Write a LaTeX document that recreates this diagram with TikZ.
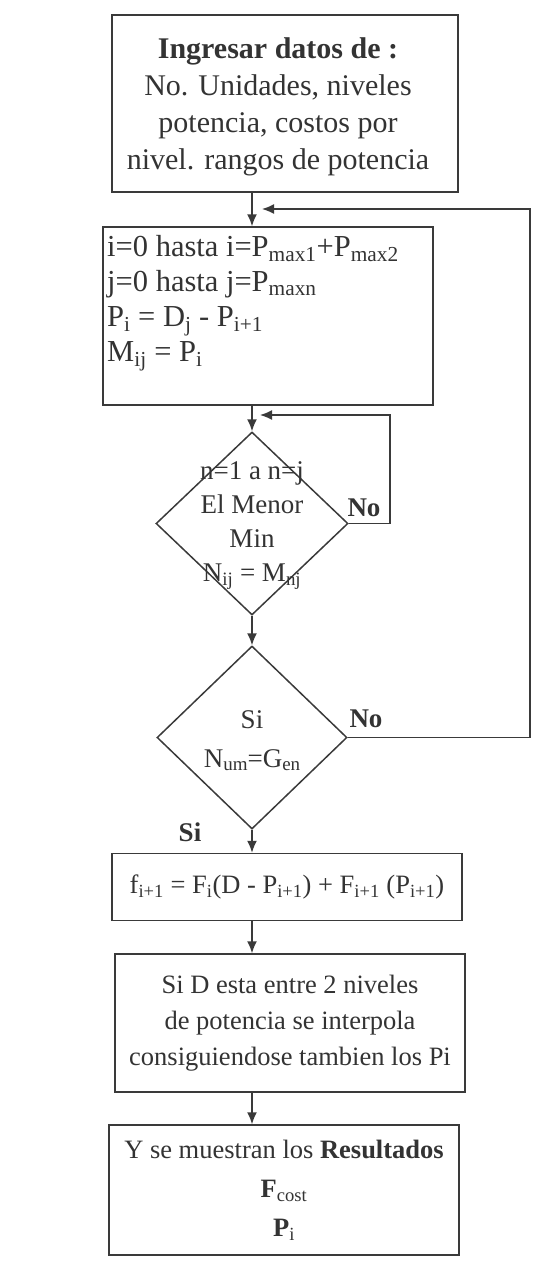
\documentclass[tikz,border=0pt]{standalone}
\usepackage{fontspec}
\setmainfont{Liberation Serif}
\usetikzlibrary{arrows.meta,shapes.geometric}
\definecolor{ink}{HTML}{3A3A3A}
\definecolor{txt}{HTML}{333333}
\newcommand\bigsub[1]{\raisebox{-0.25ex}{\fontsize{19}{20}\selectfont #1}}
\tikzset{
  boxnode/.style={draw=ink,line width=1.5pt,rectangle,inner sep=5pt,text=txt,align=center,
    font=\fontsize{26.5}{35}\selectfont},
  plaintext/.style={text=txt,inner sep=0pt},
  dianode/.style={draw=ink,line width=1.5pt,diamond,inner sep=0pt},
  dtext/.style={text=txt,align=center,font=\fontsize{27}{34}\selectfont},
  lbl/.style={text=txt,font=\bfseries\fontsize{27}{30}\selectfont},
  arr/.style={draw=ink,line width=1.5pt,-{Latex[length=12pt,width=10pt]}},
}
\begin{document}
\begin{tikzpicture}[x=1pt,y=-1pt]
\useasboundingbox (0,0) rectangle (533,1262);
% boxes
\node[boxnode,minimum width=346pt,minimum height=177pt] (b1) at (285,103.5) {};
\node[plaintext,align=center,font=\fontsize{30}{37}\selectfont] (t00) at (278,107)
  {\textbf{Ingresar datos de :}\\No. Unidades, niveles\\potencia, costos por\\nivel. rangos de potencia};
\node[boxnode,minimum width=330pt,minimum height=178pt] (b2) at (268,316) {};
\node[plaintext,anchor=north west,align=left,font=\fontsize{30.5}{35}\selectfont] (t0) at (107,235)
  {i=0 hasta i=P\textsubscript{max1}+P\textsubscript{max2}\\
   j=0 hasta j=P\textsubscript{maxn}\\
   P\textsubscript{i} = D\textsubscript{j} - P\textsubscript{i+1}\\
   M\textsubscript{ij} = P\textsubscript{i}};
\node[dianode,minimum width=192pt,minimum height=183pt] (d1) at (252,523.5) {};
\node[dtext] (t1) at ([yshift=-2pt]d1.center) {n=1 a n=j\\El Menor\\Min\\N\textsubscript{ij} = M\textsubscript{nj}};
\node[dianode,minimum width=190pt,minimum height=183pt] (d2) at (252,737.5) {};
\node[dtext,font=\fontsize{27}{39}\selectfont] (t2) at ([yshift=-3pt]d2.center) {Si\\N\bigsub{um}=G\bigsub{en}};
\node[boxnode,minimum width=350pt,minimum height=67pt] (b3) at (287,887)
  {f\textsubscript{i+1} = F\textsubscript{i}(D - P\textsubscript{i+1}) + F\textsubscript{i+1} (P\textsubscript{i+1})};
\node[boxnode,minimum width=350pt,minimum height=138pt,font=\fontsize{26.5}{36}\selectfont] (b4) at (290,1023)
  {Si D esta entre 2 niveles\\de potencia se interpola\\consiguiendose tambien los Pi};
\node[boxnode,minimum width=350pt,minimum height=130pt,font=\fontsize{26.5}{39}\selectfont] (b5) at (284,1190)
  {Y se muestran los \textbf{Resultados}\\\textbf{F}\textsubscript{cost}\\\textbf{P}\textsubscript{i}};
% labels
\node[lbl] (no1) at (364,508) {No};
\node[lbl] (no2) at (366,719) {No};
\node[lbl] (si) at (190,832) {Si};
% helper coordinates
\coordinate (m1) at (262,209);
\coordinate (m2) at (260,415);
\coordinate (rx) at (530,0);
\coordinate (ix) at (390,0);
% main flow
\draw[arr] (b1.south -| d1.north) -- (b2.north -| d1.north);
\draw[arr] (b2.south -| d1.north) -- (d1.north);
\draw[arr] (d1.south) -- (d2.north);
\draw[arr] (d2.south) -- (b3.north -| d2.south);
\draw[arr] (b3.south -| d2.south) -- (b4.north -| d2.south);
\draw[arr] (b4.south -| d2.south) -- (b5.north -| d2.south);
% feedback loops
\draw[arr] (d1.east) -- (d1.east -| ix) |- (m2);
\draw[arr] (d2.east) -- (d2.east -| rx) |- (m1);
\end{tikzpicture}
\end{document}
